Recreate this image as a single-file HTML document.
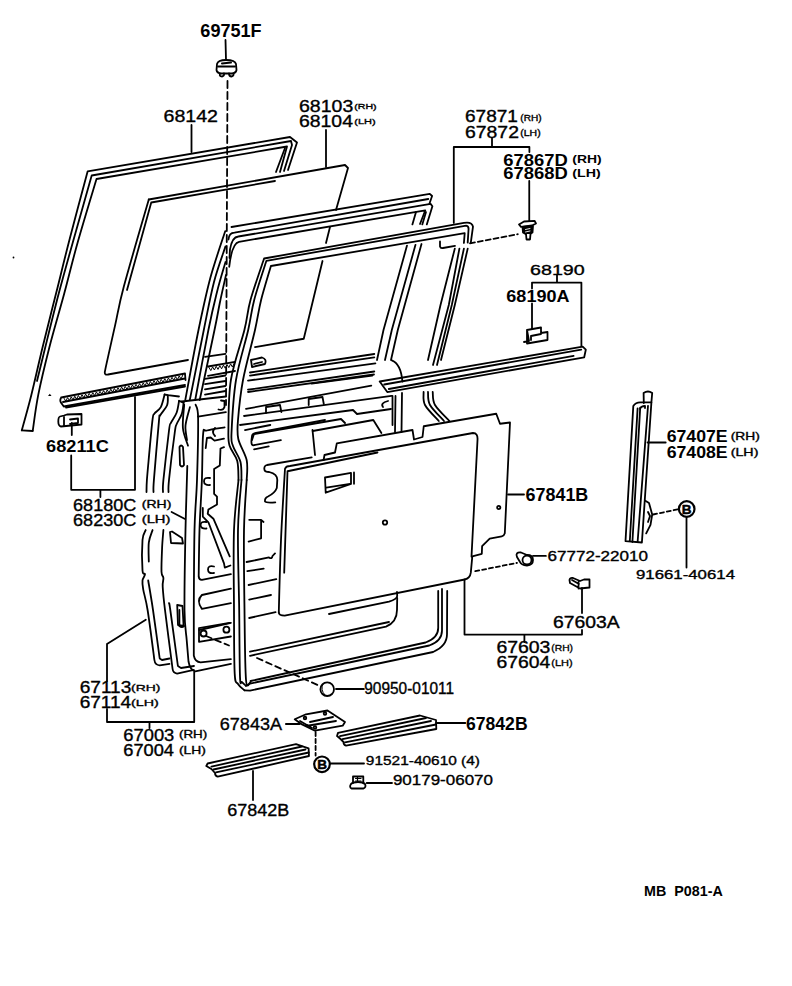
<!DOCTYPE html>
<html><head><meta charset="utf-8"><style>
html,body{margin:0;padding:0;background:#fff;}
svg{display:block;}
text{font-family:"Liberation Sans",sans-serif;fill:#000;}
</style></head><body>
<svg width="792" height="986" viewBox="0 0 792 986">
<g fill="none" stroke="#000" stroke-width="1.8" stroke-linejoin="round" stroke-linecap="round">
<path d="M225.5,40 L226,60"/>
<path d="M217,64 Q218,60 226,60 Q235,60 236,64 L236.5,70 Q236,73 232,73.5 L221,73.5 Q217,73 216.5,70 Z"/>
<path d="M218,66.5 L235,66.5 M220,73.5 Q219,76.5 222,76.5 Q224.5,76 224,73.5 M229,73.5 Q229,76.5 231.5,76.5 Q234,76 233.5,73.5"/>
<path d="M222,63.5 L231,62.5" stroke-width="2"/>
<path d="M227.5,81 L226,405" stroke-dasharray="7,4"/>
<path d="M191.5,125 L191.5,152"/>
<path d="M326,130 L326,167"/>
<path d="M21.8,430.3 C23.4,424.4 28.0,408.4 31.4,394.7 C34.8,381.0 38.3,364.9 42.4,348.0 C46.5,331.1 51.5,311.6 56.1,293.3 C60.7,275.1 64.5,258.8 69.8,238.5 C75.0,218.2 84.6,182.6 87.6,171.4 L290,137 L297,142.5 L288,170"/>
<path d="M37.0,381.0 C38.4,375.5 41.5,362.6 45.1,348.0 C48.7,333.4 54.0,311.6 58.8,293.3 C63.6,275.1 68.4,258.1 73.9,238.5 C79.4,218.9 88.7,186.0 91.7,175.5 L291,141 L292,145 L284,171"/>
<path d="M32.8,430.3 C33.7,424.4 35.6,408.4 38.3,394.7 C41.0,381.0 44.9,364.9 49.2,348.0 C53.5,331.1 59.5,311.1 64.3,293.3 C69.1,275.5 72.6,260.2 78.0,241.2 C83.4,222.1 93.4,189.4 96.5,179.0 L287,146.5 L280,172"/>
<path d="M21.8,430.3 L32.8,431"/>
<path d="M285,148 L276,172"/>
<path d="M148.75,199.5 L345,165 L348,168 L336,210"/>
<path d="M330,227 L326,243"/>
<path d="M322.5,261 L303.75,338.75 L255,347.2"/>
<path d="M148.8,199.5 C144.6,214.0 129.5,265.4 123.9,286.3 C118.3,307.2 118.1,312.0 115.2,324.9 C112.3,337.8 108.3,355.5 106.6,363.4 C104.9,371.2 105.1,370.6 104.8,372.0 Q104.5,375.5 108,374.5 L188,360"/>
<path d="M127,290 L151.25,202.5 L275,181"/>
<path d="M231.5,227 L429.8,193.8 L432.1,196 L429.5,203.5"/>
<path d="M228.5,239.5 Q229,233 234.5,232.7 L428.3,199"/>
<path d="M229.5,258 L230,249.4 Q232,237 238.3,236.5 L430.6,203.9 L432.4,206.2 L426.8,224.4"/>
<path d="M229.2,266.8 Q232,243 239,241.8 L425.3,210.3 L420,224"/>
<path d="M412.4,224.4 L416,212 M422.3,224.4 L426,212"/>
<path d="M225.2,231.2 C222.7,239.0 214.8,261.5 210.3,278.0 C205.9,294.5 202.7,309.7 198.5,330.0 C194.3,350.3 187.5,388.3 185.3,400.0"/>
<path d="M225.5,246.4 C223.6,252.3 217.6,268.1 214.0,282.0 C210.4,295.9 207.8,310.3 203.8,330.0 C199.8,349.7 192.1,388.3 189.8,400.0"/>
<path d="M225.5,262.0 C224.1,267.0 219.8,280.7 217.0,292.0 C214.2,303.3 212.0,312.0 208.4,330.0 C204.8,348.0 197.4,388.3 195.2,400.0"/>
<path d="M226.0,275.0 C225.0,279.5 221.9,292.8 220.0,302.0 C218.1,311.2 217.9,313.7 214.5,330.0 C211.1,346.3 202.2,388.3 199.7,400.0"/>
<path d="M407,245.6 L383.5,330 L377,360"/>
<path d="M415.5,244.8 L391.8,330 L385,360"/>
<path d="M421.5,244 L397.8,330 L391,360"/>
<path d="M238.5,480.0 C238.3,476.8 238.7,466.5 237.2,460.8 C235.7,455.1 231.1,450.8 229.6,445.7 C228.1,440.6 228.2,441.4 228.4,430.5 C228.6,419.6 228.2,396.8 230.9,380.0 C233.6,363.2 241.1,343.3 244.4,330.0 C247.7,316.7 247.2,311.9 250.5,300.0 C253.8,288.1 261.8,265.4 264.1,258.5 L463.9,222.9 Q472,221.5 473,226.7 L470.8,242.6"/>
<path d="M241.5,480.0 C241.3,477.0 241.9,467.7 240.5,462.0 C239.1,456.3 234.5,450.8 233.0,446.0 C231.5,441.2 231.0,444.0 231.5,433.0 C232.0,422.0 233.2,397.2 236.0,380.0 C238.8,362.8 245.2,343.3 248.2,330.0 C251.2,316.7 251.2,311.5 254.2,300.0 C257.2,288.5 264.4,267.3 266.4,260.8 L466.2,225.6 Q469,226 468.5,230 L467.7,242.6"/>
<path d="M246.7,480.0 C246.7,476.7 248.1,467.1 246.7,460.3 C245.3,453.5 239.8,445.7 238.3,439.0 C236.9,432.3 237.2,429.8 238.0,420.0 C238.8,410.2 240.2,395.0 243.0,380.0 C245.8,365.0 252.0,343.3 255.0,330.0 C258.0,316.7 258.5,310.7 261.1,300.0 C263.8,289.3 269.3,271.7 270.9,266.0 L464.7,233.2 L463.9,243"/>
<path d="M454.8,248.6 L440.5,305 L428,360"/>
<path d="M459.4,248.6 L448.8,305 L433,365"/>
<path d="M463.9,248.6 L451.8,305 L437,365"/>
<path d="M467.7,248.6 L454.8,305 L441,360"/>
<path d="M440,241.5 L440,246.5 Q440.5,248.5 443,248 L455,245.8"/>
<path d="M470,243.3 L517.8,234.2" stroke-dasharray="5,3"/>
<path d="M453.8,147 L453.8,222.9 M453.8,147 L529.4,147 L529.4,152 M492,138.5 L492,147"/>
<path d="M238.5,480.0 C237.8,488.3 234.8,508.3 234.0,530.0 C233.2,551.7 233.9,586.1 234.0,610.0 C234.1,633.9 234.0,661.3 234.7,673.6 C235.4,685.9 236.4,681.2 238.0,684.0 C239.6,686.8 243.4,689.2 244.5,690.3"/>
<path d="M241.5,480.0 C240.9,488.3 238.4,508.3 238.0,530.0 C237.6,551.7 238.9,585.5 239.2,610.0 C239.5,634.5 239.5,664.7 240.0,676.7 C240.5,688.7 241.0,680.5 242.0,682.0 C243.0,683.5 245.3,685.2 246.0,685.8"/>
<path d="M246.7,480.0 C246.2,488.3 244.4,508.3 244.0,530.0 C243.6,551.7 244.2,585.0 244.5,610.0 C244.8,635.0 245.0,667.7 246.0,679.7 C247.0,691.7 249.8,681.6 250.6,682.0"/>
<path d="M164.6,394.5 C164.0,396.6 162.5,403.9 160.8,407.1 C159.1,410.3 155.9,411.5 154.5,413.5 C153.1,415.5 153.4,412.9 152.6,419.1 C151.8,425.3 150.4,440.6 149.5,450.7 C148.6,460.8 147.4,473.1 146.9,480.0 C146.4,486.9 146.6,490.0 146.5,492.0"/>
<path d="M145.7,530.0 C145.2,531.7 143.0,533.3 142.5,540.0 C142.0,546.7 142.1,564.7 142.5,570.4 C142.9,576.1 145.0,572.5 145.0,574.2 C145.0,575.9 142.8,578.0 142.5,580.5 C142.2,583.0 142.3,584.4 143.2,589.3 C144.0,594.2 145.7,598.2 147.6,610.0 C149.5,621.8 153.3,651.7 154.4,660.0 Q155,665 159.7,665.3 L169.5,663.8"/>
<path d="M167.8,395.2 C167.7,396.9 168.4,401.9 167.1,405.3 C165.8,408.7 161.6,412.7 160.2,415.4 C158.8,418.1 159.9,410.9 158.9,421.7 C157.9,432.5 154.8,468.3 153.9,480.0 C153.0,491.7 153.6,490.0 153.5,492.0"/>
<path d="M152.6,530.0 C152.0,532.1 149.4,537.3 148.8,542.6 C148.2,547.9 148.8,558.4 148.8,561.6"/>
<path d="M148.2,580.5 C149.0,585.4 151.1,597.0 153.0,610.0 C154.9,623.0 158.6,650.4 159.7,658.5 L162,660 L169.5,658.5"/>
<path d="M164.6,394.5 L167.8,395.2 L179,396.5"/>
<path d="M179.1,400.8 C178.7,402.8 178.0,409.1 176.6,412.8 C175.2,416.5 172.2,419.9 170.9,422.9 C169.6,425.8 170.2,421.0 169.0,430.5 C167.8,440.0 164.4,469.8 163.4,480.0 C162.4,490.2 163.1,490.0 163.0,492.0"/>
<path d="M163.4,530.0 C163.2,533.0 162.4,540.8 162.1,547.7 C161.8,554.7 161.3,566.7 161.5,571.7 C161.7,576.8 163.2,575.5 163.4,578.0 C163.6,580.5 162.4,581.5 162.7,586.8 C163.0,592.1 163.3,596.3 165.0,610.0 C166.7,623.7 171.3,659.2 172.6,669.0 Q173,673 177.1,673.6 L193.8,669.8"/>
<path d="M183.6,402.7 C183.3,404.6 182.9,410.5 181.7,414.1 C180.5,417.7 177.8,421.1 176.6,424.2 C175.4,427.3 176.0,423.7 174.7,433.0 C173.4,442.3 170.0,470.2 169.0,480.0 C168.0,489.8 168.6,490.0 168.5,492.0"/>
<path d="M169.0,603.2 C169.2,604.3 168.8,599.5 170.3,610.0 C171.8,620.5 176.6,656.7 177.9,666.0 L181,668 L194,666"/>
<path d="M179.1,400.8 L183.6,402.7"/>
<path d="M187.3,466.0 C187.0,476.7 186.0,506.0 185.5,530.0 C185.0,554.0 184.3,591.7 184.5,610.0 C184.7,628.3 186.0,631.4 186.7,640.0 C187.4,648.6 188.2,657.9 188.5,661.5 Q190,670 195.3,671.4 L230.9,663.8"/>
<path d="M195.6,404.6 C196.0,406.8 197.9,405.3 198.1,417.9 C198.3,430.5 197.6,461.3 197.0,480.0 C196.4,498.7 195.0,508.3 194.5,530.0 C194.0,551.7 193.9,589.1 193.8,610.0 C193.7,630.9 193.8,647.9 193.8,655.5 Q195,662 200.6,662.3 L230.9,659.2"/>
<path d="M184.2,404.6 C184.0,408.5 182.3,421.1 182.9,428.0 C183.5,434.9 187.2,442.8 188.0,445.7"/>
<path d="M189.9,407.1 C189.2,410.2 186.0,420.0 185.5,425.5 C185.0,431.0 186.8,437.6 187.0,440.0"/>
<path d="M179.5,447 Q181,444 183,447 L184,465 Q182,468 180,465 Z"/>
<path d="M179.4,610 L179.4,626 Q182,628 184,626"/>
<path d="M177.2,605 L182.5,606 L183.6,626 L178,625 Z"/>
<path d="M170,532 L172,531.5 L182,538 L183,543.5 L171,543 Z"/>
<path d="M181.7,401.5 L226,396.5"/>
<path d="M198,416.6 L225.9,412.2"/>
<path d="M224.6,427.3 C221.7,427.8 210.5,429.3 206.9,430.5 C203.3,431.7 203.9,426.1 203.1,434.3 C202.3,442.6 202.5,464.1 201.9,480.0 C201.3,495.9 200.0,513.9 199.5,530.0 C199.0,546.1 198.8,568.9 198.7,576.7 Q199,580 201.9,579.9 L230.9,574.2"/>
<path d="M205.7,448.2 L206.9,438 L210.7,437.5 L214.5,440.6 L224,438.7"/>
<path d="M224,447.1 L220.5,448.5 L219.8,465.5 L214.1,469.1 L214.1,493.9 L217,496.7 L217,504.5 L208.4,509.5 L207.7,513.8 L213.4,518.7 L229.7,556.3"/>
<path d="M202.8,508 L202.8,516.6 L208.4,522.3 L224,563.4 L224.8,567.7 L230.4,565.5"/>
<path d="M230.9,588.7 L201.9,595 Q196,600.7 201.9,608.9 L230.9,603.2"/>
<path d="M199.3,630 L230.9,622.8"/>
<path d="M199,628.2 L229.4,622.9 M199,641.8 L230.9,636.5 M199,628.2 L199,641.8"/>
<circle cx="203.6" cy="633.5" r="3"/><circle cx="226.4" cy="629.7" r="3"/>
<path d="M214,566.5 Q208,565 208,569.5 Q208,574 214,573 M210,478 Q204,477 204,481.2 Q204,485.5 210,485 M206.5,522 Q200.6,521 200.6,525 Q200.6,529 206.5,528.5 M215,428 Q211,432 215,436"/>
<path d="M61.2,397.5 L185,373.5 L185.5,380 M61.2,397.5 Q59,401 62,404 L63.75,406.5 L185,385"/>
<path d="M63,402 L185,378.5"/>
<path d="M66,407.5 L185,386.5"/>
<path d="M64.0,398.3 L65.8,401.2 L67.6,397.6 L69.4,400.5 L71.2,396.9 L73.0,399.8 L74.8,396.2 L76.6,399.1 L78.4,395.5 L80.2,398.4 L82.0,394.8 L83.8,397.7 L85.6,394.1 L87.4,397.0 L89.2,393.4 L91.0,396.3 L92.8,392.7 L94.6,395.6 L96.4,392.0 L98.2,394.9 L100.0,391.3 L101.8,394.2 L103.6,390.6 L105.4,393.5 L107.2,389.9 L109.0,392.8 L110.8,389.2 L112.6,392.1 L114.4,388.5 L116.2,391.4 L118.0,387.8 L119.8,390.7 L121.6,387.1 L123.4,390.0 L125.2,386.4 L127.0,389.3 L128.8,385.7 L130.6,388.6 L132.4,385.0 L134.2,387.9 L136.0,384.3 L137.8,387.2 L139.6,383.6 L141.4,386.5 L143.2,382.9 L145.0,385.8 L146.8,382.2 L148.6,385.1 L150.4,381.5 L152.2,384.4 L154.0,380.8 L155.8,383.7 L157.6,380.1 L159.4,383.0 L161.2,379.4 L163.0,382.4 L164.8,378.7 L166.6,381.7 L168.4,378.0 L170.2,381.0 L172.0,377.3 L173.8,380.3 L175.6,376.6 L177.4,379.6 L179.2,375.9 L181.0,378.9 L182.8,375.2" stroke-width="1"/>
<path d="M60,416.5 L64,415.5 L67,414.5 L81.5,414 L81.5,424.5 L61,426.5 Q58.3,426 58.3,421.5 Q58.3,417 60,416.5 Z"/>
<path d="M64,417 L64,425.5 M70,419.5 L78,418.5 L78,423 L70,424"/>
<path d="M71.8,423 L71.8,435"/>
<path d="M71.2,455.5 L71.2,489.8 L135,489.8 L135,397 M100.4,489.8 L100.4,497"/>
<path d="M171.6,512 L184.5,518.8"/>
<path d="M205,356.8 L225.5,353.8 M205,378.8 L225.5,375.5 M205,384.1 L225.5,381 M205,389.4 L225.5,386 M205,394.7 L225.5,391"/>
<path d="M208,366.5 L235,361.8 M208,375.8 L235,371"/>
<path d="M209.0,367.5 L210.8,370.6 L212.6,366.9 L214.4,370.0 L216.2,366.3 L218.0,369.4 L219.8,365.7 L221.6,368.8 L223.4,365.1 L225.2,368.2 L227.0,364.5 L228.8,367.6 L230.6,363.9 L232.4,367.0 L234.2,363.2" stroke-width="1"/>
<path d="M250,372.5 L374.3,354 M250,375.6 L374.3,357.4 M248,380.6 L375.4,363.4 M248,389.7 L374.3,371.5 M248,392 L374,374.5"/>
<path d="M311.7,383.6 L372.3,375.6 M246,408.9 L371.3,385.7 M244,416 L391.5,395.8"/>
<path d="M240,425 L353,410 L357,414 L391,409"/>
<path d="M252,440 L254,434 L341,419 L345,423"/>
<path d="M312.7,431 L373.3,420 L381.4,433"/>
<path d="M251,360 L262,357.5 Q267,359 265,364 L252,367 Z M254,364 L262,362"/>
<path d="M266,413 L266,407 L280,405 L281.4,412 M308.7,405 L308.7,399 L322.5,397 L323.8,404"/>
<path d="M388,401 Q380,403 383,407"/>
<path d="M379.7,381.5 L582.7,346.7 L585.8,349.7 L584.2,357.3 L387.3,392.1 Z"/>
<path d="M384.2,384.5 L581.2,349.7 M388.8,389 L573.6,355.8"/>
<path d="M391.8,360.3 Q401,364 402.4,381.5"/>
<path d="M392.5,396 L392.5,425 M395.5,396 L395,432 M402,393 L401.5,432"/>
<path d="M423.6,392.0 C423.8,394.2 422.5,400.2 425.0,405.0 C427.5,409.8 436.5,418.3 438.8,421.0"/>
<path d="M428.0,392.0 C428.3,394.2 427.3,400.2 430.0,405.0 C432.7,409.8 441.7,418.3 444.0,421.0"/>
<path d="M432.7,392.0 C433.1,394.2 432.2,400.2 435.0,405.0 C437.8,409.8 447.0,418.3 449.4,421.0"/>
<path d="M527,330 L541,327.5 L541,333 L547.5,332 L547.5,340 L527,343.5 Z M524,342 L529,341 L527,330 M531,340 L531,336 L541,334"/>
<path d="M532,282.6 L581.4,282.6 L581.4,346 M557,275 L557,282.6 M532,282.6 L532,288.5 M532,303.5 L532,328.8"/>
<path d="M519,224.5 L524,221.5 L534.5,220.8 L536,223.5 L532,225.5 L521,226.8 Z"/>
<path d="M522.5,227 L533,226 L532.5,232.5 L530,234 L525.5,234 L523,232.5 Z" fill="#000"/>
<path d="M526,234 L526.5,239.5 L530,239.5 L530.5,234" fill="#fff"/>
<path d="M525.5,229.5 L530,228.5 M525.5,232 L530,231" stroke="#fff" stroke-width="0.9"/>
<path d="M529.25,181 L529.25,221"/>
<path d="M323.6,460 L324.5,455 L335,452.5 L336.8,443.4 L412.5,430 L414,439.5 L422.5,437 L423.75,426.25 L496.25,413.75 L500,423.75 L510,422.5 L504.8,533.3 Q504,536 501.8,536.4 L489.7,538.6 L482.1,546.2 L481.8,553.8 L472.3,556.4 L470.8,572.7 Q470,578.5 464.7,579.5 L284.7,615.6 Q279,615.5 278.75,612.5"/>
<path d="M278.8,612.5 C279.1,600.4 280.0,564.0 281.0,540.0 C282.0,516.0 284.3,480.6 285.0,468.8 Q286,466 290,466 L473,433 Q478,433 477.5,440 L471.5,556.8"/>
<path d="M284.2,572.6 L287.5,471.25 L377.5,452.5"/>
<path d="M508,494.5 L524,494.5"/>
<circle cx="498.75" cy="507.5" r="1.6"/>
<path d="M325,477.5 L351,472.8 L351,484 L325.7,492.7 Z M326.2,487.6 L350,483.8 M354,472.4 L354,483.8"/>
<circle cx="385" cy="522.5" r="2.2"/>
<path d="M311.7,457.4 L267,465 Q263.5,466 264.5,470 Q265,472 269.2,472 Q277.5,474 277.3,480 L276.8,488 Q275,493 268,496.5 Q264.5,498 265,501.5 Q266,503 275.3,502.3"/>
<path d="M280.9,440.2 L253.1,445.3 Q251,445 251.5,440 L252,436 Q252.5,433.6 256,433 L325,420 M254.1,449.3 L268.7,446.3 M245,430.1 L270.3,425"/>
<path d="M249.2,519.8 L261.1,519.8 L263.5,522 M261.1,519.8 L261.1,538.3 L248.6,541.6"/>
<path d="M246.6,562 L269,557.4 Q272,559.5 272.5,556 L275,553.4 M247.3,571.2 L263.7,568.6 M248.6,585 L276.3,579.2 M249.2,599.6 L271,595 M249.2,618 L275.6,612.1"/>
<path d="M312.5,430 L315,455"/>
<path d="M329,614 L389,601.7 Q397,599 397.2,596 L397,592"/>
<path d="M250,655.8 L386,626.7 Q397,622 397,610 L397.2,598"/>
<path d="M250,651.7 L389,622"/>
<path d="M244.5,690.3 L250.0,690.6 L433.1,652 Q447,646 447,634.3 L447.2,591"/>
<path d="M246,685.8 L250,683.6 L429.3,645.5 Q442,641 442,630.5 L442,589"/>
<path d="M250.6,681 L425.6,642.5 Q438.2,638 438.2,628 L438.2,591"/>
<path d="M206,636 L229,645.5" stroke-dasharray="6,4"/>
<path d="M257,658 L320,686" stroke-dasharray="6,4"/>
<circle cx="327.2" cy="689.2" r="6.8"/>
<path d="M323,684 Q320,690 325,695" stroke-width="1"/>
<path d="M336,689 L363.9,689"/>
<path d="M464.5,579.5 L464.5,634.6 L582,634.6 L582,630 M582,613 L582,588 M524.4,634.6 L524.4,642"/>
<path d="M569.5,580 Q570,577.5 573,578 L580,581 L584,579.5 L589.5,579.5 L589.5,587.5 L580,588.5 L570,583 Z M578.5,582 L578.5,588.5 M572,580 L579,584"/>
<path d="M475.3,571.2 L517,562.9" stroke-dasharray="4,3"/>
<path d="M517,557 Q515,552 521,552.5 L527,555 Q533,555 533,560 Q533,565 527,565.5 Q521,565 520,562 Z"/>
<circle cx="527" cy="560" r="4.5"/>
<path d="M533,555.9 L545.9,555.9"/>
<path d="M643.8,403 L643.6,393 Q648,390 652.2,393 L651.4,402.4"/>
<path d="M633.3,405.9 Q636,402 641,402.4 L651.4,402.4 L641.9,542.5 L625.5,541.2 Z"/>
<path d="M637.6,408.4 L629.8,541.2 M640.2,407.6 L632.4,542 M648,405.9 L637.6,542"/>
<path d="M640,409 Q641,406 645,406 L645,408"/>
<path d="M645.3,500.7 L649,503 L652.2,514.5 L650.5,524.8 L646.2,533.4 M648,512 L650,516 L648,522"/>
<path d="M647.5,442.5 L665.7,442.5"/>
<path d="M653.1,514.5 L678.1,509.3" stroke-dasharray="4,3"/>
<circle cx="686.7" cy="509" r="7.8" stroke-width="2.2"/>
<path d="M686.5,518 L686.5,567.5"/>
<path d="M294.7,719.3 L306,714.3 L327.5,710.5 L345,722 L342.7,725.7 L314.9,730.7 L302,724.4 Z"/>
<path d="M300,721 L312,728 M310,722 L333,717 M306,726 L336,721"/>
<circle cx="305" cy="718" r="1.3"/><circle cx="325" cy="713.5" r="1.3"/><circle cx="315" cy="727.5" r="1.3"/>
<path d="M285.9,724 L299.7,724"/>
<path d="M315.6,732 L315.6,755.5" stroke-dasharray="4,3"/>
<circle cx="322" cy="764.3" r="7.8" stroke-width="2.2"/>
<text x="322" y="769.3" font-size="13.5" font-weight="bold" text-anchor="middle" fill="#000" stroke="#000" stroke-width="0.5">B</text>
<text x="686.7" y="514" font-size="13.5" font-weight="bold" text-anchor="middle" fill="#000" stroke="#000" stroke-width="0.5">B</text>
<path d="M330,763.5 L364,763.5"/>
<path d="M353,783 L353,776.5 L363.3,776.5 L363.3,783"/>
<path d="M351,784 Q349,787 351.5,788.5 L363.5,788.5 Q366.5,787 365,784 Q363,782 358,782 Q353,782 351,784 Z"/>
<path d="M355.5,778.5 L361,778.5 M357.5,777 L357.5,782 M355.5,781 L361,781" stroke-width="1.2"/>
<path d="M366.7,783 L392,783"/>
<path d="M207.6,763.5 L296,744.1 L308.6,748.4 L309,756 L217.7,776.7 Q215,776 215,773 L211.4,769 L206.3,766 Z"/>
<path d="M211.4,766.6 L302,746.5 M213.5,769.5 L305.5,749.5 M216,772.4 L308.8,752.5"/>
<path d="M253,771 L253,800"/>
<path d="M338,732.9 L420,715.5 L436,720 L436.3,729 L346,745.6 Q343.5,745 343.5,742 L340,738.5 L337,736 Z"/>
<path d="M340,736.2 L426,718 M342.5,739.2 L431,721 M345,742.3 L436,724.5"/>
<path d="M436,723 L465.3,723"/>
<path d="M107,644 L145.8,619.7 M107,644 L107,681 M107,709 L107,722 L194.2,722 L194.2,672 M149.5,722 L149.5,728"/>
<path d="M221,400.5 L224.5,401 L224.5,407 Q223,411 218.5,409.5"/>
<circle cx="13.5" cy="257.5" r="0.9" fill="#000" stroke="none"/>
<path d="M48,396 L49.8,393.8 L51.5,396 Z" fill="#000" stroke="none"/>
</g>
<g>
<text x="200.34" y="37.32" font-size="18.36" textLength="61.32" lengthAdjust="spacingAndGlyphs" font-weight="bold">69751F</text>
<text x="163.51" y="121.83" font-size="16.95" textLength="54.48" lengthAdjust="spacingAndGlyphs" stroke="#000" stroke-width="0.35">68142</text>
<text x="299.01" y="111.54" font-size="16.53" textLength="54.25" lengthAdjust="spacingAndGlyphs" stroke="#000" stroke-width="0.35">68103</text>
<text x="354.34" y="109.33" font-size="8.05" textLength="22.31" lengthAdjust="spacingAndGlyphs" stroke="#000" stroke-width="0.35">(RH)</text>
<text x="299.01" y="127.23" font-size="17.09" textLength="53.95" lengthAdjust="spacingAndGlyphs" stroke="#000" stroke-width="0.35">68104</text>
<text x="354.32" y="124.33" font-size="8.05" textLength="21.36" lengthAdjust="spacingAndGlyphs" stroke="#000" stroke-width="0.35">(LH)</text>
<text x="465.03" y="122.05" font-size="15.82" textLength="52.89" lengthAdjust="spacingAndGlyphs" stroke="#000" stroke-width="0.35">67871</text>
<text x="520.38" y="120.72" font-size="8.59" textLength="21.25" lengthAdjust="spacingAndGlyphs" stroke="#000" stroke-width="0.35">(RH)</text>
<text x="465.01" y="137.84" font-size="16.53" textLength="53.96" lengthAdjust="spacingAndGlyphs" stroke="#000" stroke-width="0.35">67872</text>
<text x="520.35" y="135.72" font-size="8.59" textLength="20.29" lengthAdjust="spacingAndGlyphs" stroke="#000" stroke-width="0.35">(LH)</text>
<text x="503.33" y="165.53" font-size="17.23" textLength="64.45" lengthAdjust="spacingAndGlyphs" font-weight="bold">67867D</text>
<text x="572.31" y="163.39" font-size="10.19" textLength="29.39" lengthAdjust="spacingAndGlyphs" font-weight="bold">(RH)</text>
<text x="503.33" y="178.65" font-size="15.68" textLength="64.45" lengthAdjust="spacingAndGlyphs" font-weight="bold">67868D</text>
<text x="572.29" y="177.39" font-size="10.19" textLength="28.42" lengthAdjust="spacingAndGlyphs" font-weight="bold">(LH)</text>
<text x="530.00" y="274.85" font-size="14.97" textLength="54.77" lengthAdjust="spacingAndGlyphs" stroke="#000" stroke-width="0.35">68190</text>
<text x="506.34" y="301.83" font-size="17.37" textLength="63.14" lengthAdjust="spacingAndGlyphs" font-weight="bold">68190A</text>
<text x="46.04" y="451.63" font-size="16.95" textLength="62.75" lengthAdjust="spacingAndGlyphs" font-weight="bold">68211C</text>
<text x="73.08" y="510.83" font-size="16.95" textLength="63.20" lengthAdjust="spacingAndGlyphs" stroke="#000" stroke-width="0.35">68180C</text>
<text x="141.83" y="508.39" font-size="10.20" textLength="29.54" lengthAdjust="spacingAndGlyphs" stroke="#000" stroke-width="0.35">(RH)</text>
<text x="73.08" y="525.83" font-size="16.95" textLength="63.20" lengthAdjust="spacingAndGlyphs" stroke="#000" stroke-width="0.35">68230C</text>
<text x="141.79" y="523.39" font-size="10.20" textLength="28.63" lengthAdjust="spacingAndGlyphs" stroke="#000" stroke-width="0.35">(LH)</text>
<text x="666.65" y="442.33" font-size="16.95" textLength="61.04" lengthAdjust="spacingAndGlyphs" font-weight="bold">67407E</text>
<text x="730.74" y="440.39" font-size="10.20" textLength="29.11" lengthAdjust="spacingAndGlyphs" stroke="#000" stroke-width="0.35">(RH)</text>
<text x="666.65" y="457.54" font-size="16.53" textLength="61.04" lengthAdjust="spacingAndGlyphs" font-weight="bold">67408E</text>
<text x="730.72" y="455.89" font-size="10.20" textLength="27.66" lengthAdjust="spacingAndGlyphs" stroke="#000" stroke-width="0.35">(LH)</text>
<text x="525.54" y="501.43" font-size="17.80" textLength="62.77" lengthAdjust="spacingAndGlyphs" font-weight="bold">67841B</text>
<text x="547.53" y="561.26" font-size="14.27" textLength="100.53" lengthAdjust="spacingAndGlyphs" stroke="#000" stroke-width="0.35">67772-22010</text>
<text x="636.01" y="578.87" font-size="12.99" textLength="98.98" lengthAdjust="spacingAndGlyphs" stroke="#000" stroke-width="0.35">91661-40614</text>
<text x="553.02" y="627.64" font-size="15.96" textLength="66.62" lengthAdjust="spacingAndGlyphs" stroke="#000" stroke-width="0.35">67603A</text>
<text x="496.41" y="652.84" font-size="15.96" textLength="54.04" lengthAdjust="spacingAndGlyphs" stroke="#000" stroke-width="0.35">67603</text>
<text x="551.36" y="650.50" font-size="9.66" textLength="21.67" lengthAdjust="spacingAndGlyphs" stroke="#000" stroke-width="0.35">(RH)</text>
<text x="496.42" y="668.05" font-size="15.82" textLength="53.75" lengthAdjust="spacingAndGlyphs" stroke="#000" stroke-width="0.35">67604</text>
<text x="551.32" y="666.00" font-size="9.66" textLength="21.36" lengthAdjust="spacingAndGlyphs" stroke="#000" stroke-width="0.35">(LH)</text>
<text x="79.65" y="693.23" font-size="17.09" textLength="51.76" lengthAdjust="spacingAndGlyphs" stroke="#000" stroke-width="0.35">67113</text>
<text x="131.14" y="690.50" font-size="9.66" textLength="29.32" lengthAdjust="spacingAndGlyphs" stroke="#000" stroke-width="0.35">(RH)</text>
<text x="79.66" y="708.44" font-size="16.10" textLength="51.48" lengthAdjust="spacingAndGlyphs" stroke="#000" stroke-width="0.35">67114</text>
<text x="131.11" y="706.00" font-size="9.66" textLength="27.77" lengthAdjust="spacingAndGlyphs" stroke="#000" stroke-width="0.35">(LH)</text>
<text x="123.37" y="740.84" font-size="16.53" textLength="50.94" lengthAdjust="spacingAndGlyphs" stroke="#000" stroke-width="0.35">67003</text>
<text x="178.97" y="738.39" font-size="10.20" textLength="28.26" lengthAdjust="spacingAndGlyphs" stroke="#000" stroke-width="0.35">(RH)</text>
<text x="123.37" y="756.44" font-size="16.10" textLength="50.66" lengthAdjust="spacingAndGlyphs" stroke="#000" stroke-width="0.35">67004</text>
<text x="178.94" y="754.39" font-size="10.20" textLength="26.92" lengthAdjust="spacingAndGlyphs" stroke="#000" stroke-width="0.35">(LH)</text>
<text x="219.78" y="730.03" font-size="17.23" textLength="62.25" lengthAdjust="spacingAndGlyphs" stroke="#000" stroke-width="0.35">67843A</text>
<text x="364.29" y="694.25" font-size="15.68" textLength="89.76" lengthAdjust="spacingAndGlyphs" stroke="#000" stroke-width="0.35">90950-01011</text>
<text x="465.96" y="729.53" font-size="17.66" textLength="61.64" lengthAdjust="spacingAndGlyphs" font-weight="bold">67842B</text>
<text x="365.88" y="764.83" font-size="12.88" textLength="114.08" lengthAdjust="spacingAndGlyphs" stroke="#000" stroke-width="0.35">91521-40610&#160;(4)</text>
<text x="392.90" y="785.25" font-size="14.97" textLength="100.06" lengthAdjust="spacingAndGlyphs" stroke="#000" stroke-width="0.35">90179-06070</text>
<text x="227.39" y="816.43" font-size="17.23" textLength="61.96" lengthAdjust="spacingAndGlyphs" stroke="#000" stroke-width="0.35">67842B</text>
<text x="644.04" y="895.55" font-size="15.11" textLength="78.73" lengthAdjust="spacingAndGlyphs" font-weight="bold">MB&#160;&#160;P081-A</text>
</g>
</svg>
</body></html>
